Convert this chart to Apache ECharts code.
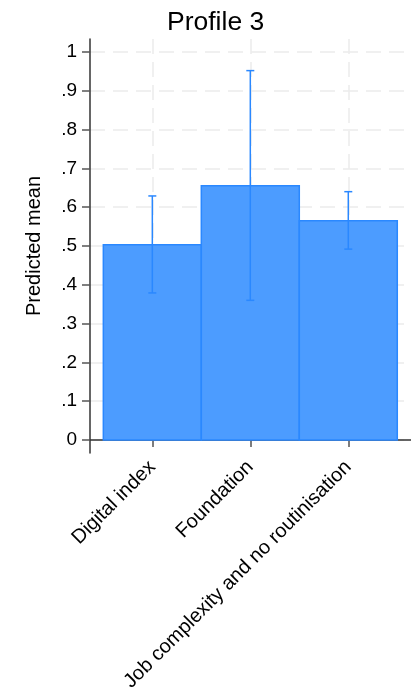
<!DOCTYPE html>
<html>
<head>
<meta charset="utf-8">
<script src="https://cdn.jsdelivr.net/npm/echarts@6/dist/echarts.min.js"></script>
<style>
html,body{margin:0;padding:0;background:#fff;}
#chart{width:411px;height:698px;}
</style>
</head>
<body>
<div id="chart"></div>
<script>
var categories = ['Digital index', 'Foundation', 'Job complexity and no routinisation'];
var positions = [1, 2, 3];
var means = [0.503, 0.655, 0.565];
var lower = [0.379, 0.360, 0.492];
var upper = [0.629, 0.952, 0.640];
var yTicks = [0, 0.1, 0.2, 0.3, 0.4, 0.5, 0.6, 0.7, 0.8, 0.9, 1];

var FONT = '"Liberation Sans", Arial, sans-serif';
var barData = positions.map(function (p, i) { return [p, means[i]]; });
var errData = positions.map(function (p, i) { return [p, lower[i], upper[i]]; });

function fmtY(v) {
  if (Math.abs(v) < 1e-9) return '0';
  if (Math.abs(v - 1) < 1e-9) return '1';
  return v.toFixed(1).replace(/^0/, '');
}

var chart = echarts.init(document.getElementById('chart'), null, { renderer: 'canvas' });
chart.setOption({
  animation: false,
  backgroundColor: '#ffffff',
  title: {
    text: 'Profile 3',
    left: 162,
    top: 4,
    textStyle: { fontFamily: FONT, fontSize: 26.5, fontWeight: 'normal', color: '#000' }
  },
  grid: { left: 90, right: -1, top: 39, bottom: 245, containLabel: false },
  xAxis: {
    type: 'value',
    min: 0.364,
    max: 3.64,
    axisLine: { show: true, lineStyle: { color: '#333', width: 1.5 } },
    axisTick: { show: true, length: 7, customValues: positions, lineStyle: { color: '#555', width: 1.5 } },
    axisLabel: {
      show: true,
      customValues: positions,
      rotate: 45,
      margin: 11,
      fontFamily: FONT,
      fontSize: 20,
      color: '#000',
      formatter: function (v) {
        var i = positions.indexOf(Math.round(v));
        return i >= 0 ? categories[i] : '';
      }
    },
    splitLine: { show: true, lineStyle: { color: '#ebebeb', width: 1.5, type: [15, 8] } }
  },
  yAxis: {
    type: 'value',
    min: -0.0335,
    max: 1.0335,
    name: 'Predicted mean',
    nameLocation: 'middle',
    nameGap: 46,
    nameTextStyle: { fontFamily: FONT, fontSize: 20, color: '#000' },
    axisLine: { show: true, lineStyle: { color: '#333', width: 1.5 } },
    axisTick: { show: true, length: 8, customValues: yTicks, lineStyle: { color: '#555', width: 1.5 } },
    axisLabel: {
      show: true,
      customValues: yTicks,
      margin: 13,
      fontFamily: FONT,
      fontSize: 19,
      color: '#000',
      formatter: fmtY
    },
    splitLine: { show: true, lineStyle: { color: '#ebebeb', width: 1.5, type: [15, 8] } }
  },
  series: [
    {
      type: 'custom',
      name: 'mean',
      data: barData,
      encode: { x: 0, y: 1 },
      renderItem: function (params, api) {
        var x = api.value(0), v = api.value(1);
        var p1 = api.coord([x - 0.5, v]);
        var p2 = api.coord([x + 0.5, 0]);
        return {
          type: 'rect',
          shape: { x: p1[0], y: p1[1], width: p2[0] - p1[0], height: p2[1] - p1[1] },
          style: { fill: '#4c9cff', stroke: '#2a88ff', lineWidth: 1.5 }
        };
      }
    },
    {
      type: 'custom',
      name: 'ci',
      data: errData,
      encode: { x: 0, y: [1, 2] },
      z: 3,
      renderItem: function (params, api) {
        var x = api.value(0);
        var lo = api.coord([x, api.value(1)]);
        var hi = api.coord([x, api.value(2)]);
        var cap = 4;
        var st = { stroke: '#2a88ff', lineWidth: 1.5 };
        return {
          type: 'group',
          children: [
            { type: 'line', shape: { x1: lo[0], y1: lo[1], x2: hi[0], y2: hi[1] }, style: st },
            { type: 'line', shape: { x1: hi[0] - cap, y1: hi[1], x2: hi[0] + cap, y2: hi[1] }, style: st },
            { type: 'line', shape: { x1: lo[0] - cap, y1: lo[1], x2: lo[0] + cap, y2: lo[1] }, style: st }
          ]
        };
      }
    }
  ]
});
</script>
</body>
</html>
